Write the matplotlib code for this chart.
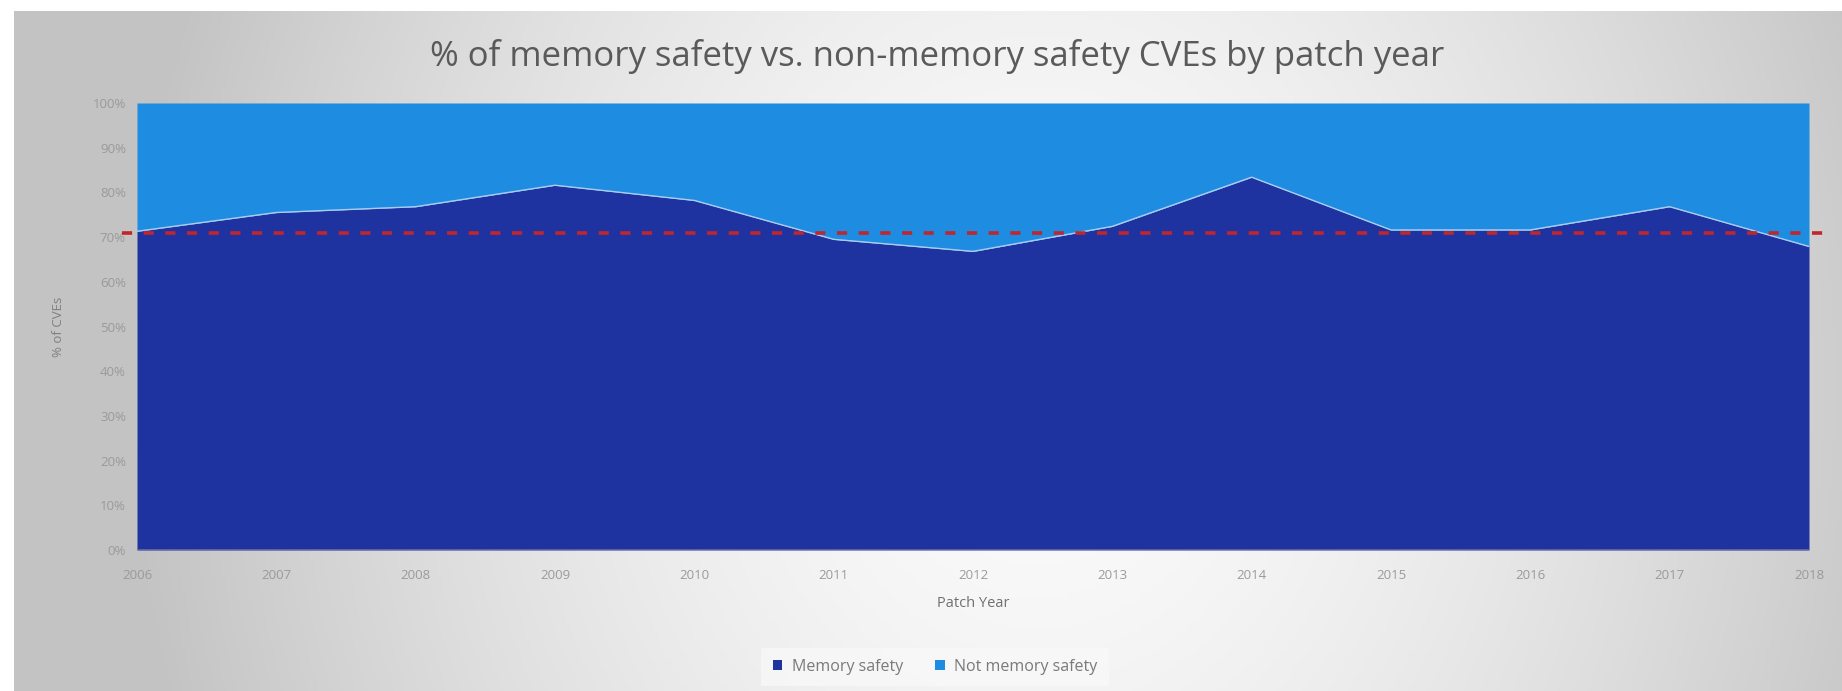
import numpy as np
import matplotlib
matplotlib.use("Agg")
import matplotlib.pyplot as plt
from matplotlib.patches import Patch

# ---- data ----
years = [2006, 2007, 2008, 2009, 2010, 2011, 2012, 2013, 2014, 2015, 2016, 2017, 2018]
memory_safety = [71.3, 75.5, 76.8, 81.6, 78.2, 69.5, 66.8, 72.4, 83.4, 71.6, 71.6, 76.8, 67.9]
not_memory_safety = [100 - v for v in memory_safety]
reference_level = 71
y_ticks = [0, 10, 20, 30, 40, 50, 60, 70, 80, 90, 100]
y_tick_labels = [f"{t}%" for t in y_ticks]
title = "% of memory safety vs. non-memory safety CVEs by patch year"
series_names = ["Memory safety", "Not memory safety"]

DARK = "#1f33a0"
LIGHT = "#1e8ce0"
FONT = ["Open Sans", "DejaVu Sans"]
plt.rcParams['font.family'] = FONT

W, H = 1842, 691
fig = plt.figure(figsize=(W / 100, H / 100), dpi=100)
fig.patch.set_facecolor("white")

# background panel with gradient (white centre, grey sides)
bg = fig.add_axes([14 / W, 0, 1 - 14 / W, 1 - 11 / H])
bg.set_axis_off()
nx, ny = 500, 160
xx, yy = np.meshgrid(np.linspace(0, 1, nx), np.linspace(0, 1, ny))
cx, cy = 0.56, 0.45
d = np.sqrt(((xx - cx) / 0.5) ** 2 + ((yy - cy) / 1.6) ** 2)
d = np.clip(d, 0, 1)
v = 0.985 - 0.22 * d ** 1.6
img = np.dstack([v, v, v])
bg.imshow(img, aspect="auto", origin="lower", extent=[0, 1, 0, 1])
bg.set_xlim(0, 1)
bg.set_ylim(0, 1)

# main axes
L, R, T, B = 137, 1809, 103, 550
ax = fig.add_axes([L / W, 1 - B / H, (R - L) / W, (B - T) / H])
ax.set_facecolor("none")
ax.fill_between(years, 0, memory_safety, color=DARK, lw=0, zorder=2)
ax.fill_between(years, memory_safety, 100, color=LIGHT, lw=0, zorder=2)
ax.plot(years, memory_safety, color="#a9cdf2", lw=1.0, zorder=3)
ax.axhline(reference_level, xmin=-0.009, xmax=1.011, color="#c0262b", lw=2.6,
           dashes=(2.8, 3.2), clip_on=False, zorder=4)
ax.axhline(0, color="#6b6f8f", lw=1.2, zorder=3)

ax.set_xlim(years[0], years[-1])
ax.set_ylim(0, 100)
ax.set_yticks(y_ticks)
ax.set_yticklabels(y_tick_labels)
ax.set_xticks(years)
ax.set_xticklabels([str(y) for y in years])
for s in ax.spines.values():
    s.set_visible(False)
ax.tick_params(axis="both", length=0, labelsize=9.5, labelcolor="#9a9a9a")
ax.tick_params(axis="y", pad=8)
ax.tick_params(axis="x", pad=14)
ax.set_xlabel("Patch Year", fontsize=10.5, color="#707070", labelpad=10)
ax.set_ylabel("% of CVEs", fontsize=9.5, color="#808080", labelpad=20)

fig.text(0.5 + 0.009, 1 - 56 / H, title, ha="center", va="center",
         fontsize=25, color="#5a5a5a")

handles = [Patch(facecolor=DARK, edgecolor="none"), Patch(facecolor=LIGHT, edgecolor="none")]
leg = fig.legend(handles, series_names, loc="center", bbox_to_anchor=(935 / W, 1 - 667 / H),
                 ncol=2, frameon=True, fontsize=11.5, handlelength=0.6, handleheight=0.6,
                 handletextpad=0.6, columnspacing=2.0, borderpad=0.7)
leg.get_frame().set_facecolor("#f9f9f9")
leg.get_frame().set_alpha(0.7)
leg.get_frame().set_edgecolor("none")
leg.get_frame().set_boxstyle("square", pad=0)
for t in leg.get_texts():
    t.set_color("#7a7a7a")

fig.savefig("out.png", dpi=100)
